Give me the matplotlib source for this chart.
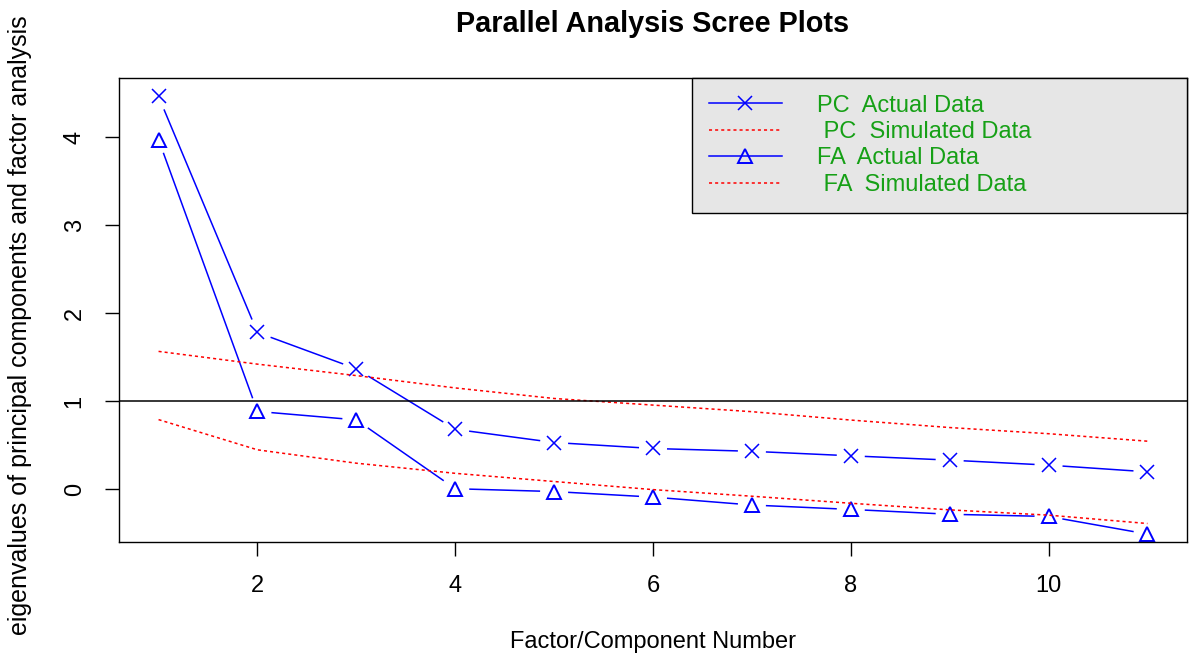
import numpy as np
import matplotlib
matplotlib.use("Agg")
import matplotlib.pyplot as plt
from matplotlib.lines import Line2D

plt.rcParams['font.family'] = ['Liberation Sans', 'DejaVu Sans']

# values
factor_num = np.arange(1, 12)
pc_actual = [4.46, 1.78, 1.367, 0.68, 0.53, 0.462, 0.43, 0.379, 0.33, 0.273, 0.197]
pc_simulated = [1.565, 1.42, 1.29, 1.15, 1.03, 0.955, 0.88, 0.785, 0.70, 0.63, 0.545]
fa_actual = [3.97, 0.883, 0.787, 0.005, -0.027, -0.09, -0.18, -0.23, -0.285, -0.31, -0.51]
fa_simulated = [0.79, 0.447, 0.295, 0.18, 0.087, -0.005, -0.08, -0.16, -0.235, -0.295, -0.39]

legend_labels = ["PC  Actual Data", " PC  Simulated Data",
                 "FA  Actual Data", " FA  Simulated Data"]

BLUE = "#0000FF"
RED = "#FF0000"
GREEN = "#16A016"
FS = 17

fig = plt.figure(figsize=(11.89, 6.60), dpi=100)
ax = fig.add_axes([119 / 1189, 1 - 542 / 660, 1068 / 1189, 464 / 660])
ax.set_xlim(0.6, 11.4)
ax.set_ylim(-0.6, 4.67)


def plot_type_b(ax, x, y, color, marker, gap=14, **kw):
    # R style type="b": points joined by lines that stop short of each point
    pts = ax.transData.transform(np.column_stack([x, y]))
    inv = ax.transData.inverted()
    for p0, p1 in zip(pts[:-1], pts[1:]):
        d = p1 - p0
        length = np.hypot(*d)
        if length <= 2 * gap:
            continue
        u = d / length
        seg = inv.transform(np.array([p0 + u * gap, p1 - u * gap]))
        ax.plot(seg[:, 0], seg[:, 1], color=color, lw=1.1, solid_capstyle='butt')
    ax.plot(x, y, linestyle='none', marker=marker, color=color,
            markerfacecolor='none', **kw)


plot_type_b(ax, factor_num, pc_actual, BLUE, 'x', markersize=10, markeredgewidth=1.1)
plot_type_b(ax, factor_num, fa_actual, BLUE, '^', markersize=10, markeredgewidth=1.4)
ax.plot(factor_num, pc_simulated, color=RED, lw=1.1, linestyle=(0, (2, 2)))
ax.plot(factor_num, fa_simulated, color=RED, lw=1.1, linestyle=(0, (2, 2)))
ax.axhline(1, color='black', lw=1.1)

for s in ax.spines.values():
    s.set_linewidth(1.0)
ax.set_xticks([2, 4, 6, 8, 10])
ax.set_yticks([0, 1, 2, 3, 4])
ax.tick_params(axis='both', direction='out', length=10, width=1.0, labelsize=FS)
ax.tick_params(axis='x', pad=14)
ax.tick_params(axis='y', pad=14)
for lbl in ax.get_yticklabels():
    lbl.set_rotation(90)
    lbl.set_va('center')

ax.set_xlabel("Factor/Component Number", fontsize=FS, labelpad=24)
ax.set_ylabel("eigenvalues of principal components and factor analysis", fontsize=18)
ax.yaxis.set_label_coords(-0.081, 0.468)
fig.suptitle("Parallel Analysis Scree Plots", fontsize=20.8, fontweight='bold',
             x=(119 + 1187) / 2 / 1189, y=0.985)

handles = [
    Line2D([], [], color=BLUE, lw=1.1, marker='x', markersize=10, markeredgewidth=1.1),
    Line2D([], [], color=RED, lw=1.1, linestyle=(0, (2, 2))),
    Line2D([], [], color=BLUE, lw=1.1, marker='^', markersize=10,
           markerfacecolor='none', markeredgewidth=1.4),
    Line2D([], [], color=RED, lw=1.1, linestyle=(0, (2, 2))),
]
leg = ax.legend(handles, legend_labels, loc='upper left',
                bbox_to_anchor=(0.5365, 0, 0.4635, 1.0), mode='expand',
                borderaxespad=0, fontsize=FS, handlelength=3.1, handletextpad=1.5,
                borderpad=0.7, labelspacing=0.19, fancybox=False, framealpha=1,
                facecolor='#E6E6E6', edgecolor='black')
leg.get_frame().set_linewidth(1.0)
for t in leg.get_texts():
    t.set_color(GREEN)

fig.savefig("out.png", dpi=100)
